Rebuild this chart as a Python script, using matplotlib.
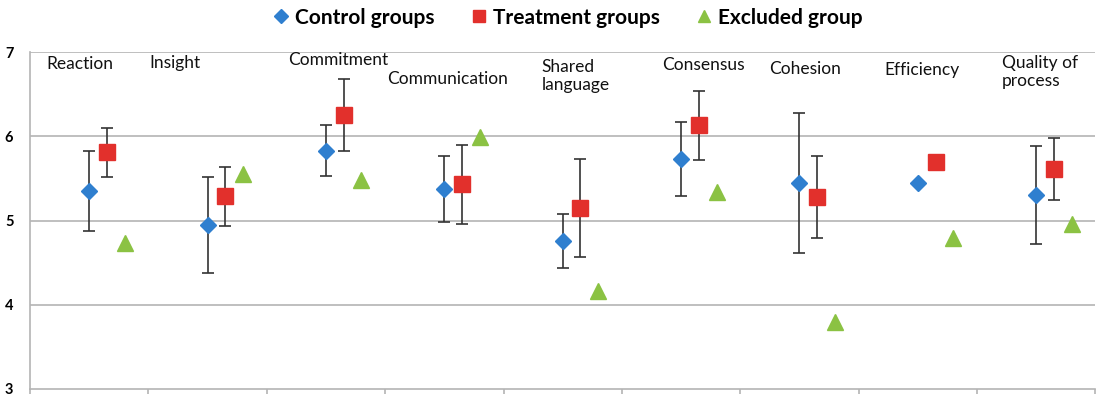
import numpy as np
import matplotlib
matplotlib.use("Agg")
import matplotlib.pyplot as plt
from matplotlib.lines import Line2D

plt.rcParams['font.family'] = ['Lato', 'DejaVu Sans']

# scale names
categories = ["Reaction", "Insight", "Commitment", "Communication", "Shared\nlanguage",
              "Consensus", "Cohesion", "Efficiency", "Quality of\nprocess"]

# mean scores with error (half range) per group
control_mean = [5.35, 4.95, 5.83, 5.37, 4.76, 5.73, 5.45, 5.45, 5.30]
control_err = [0.47, 0.57, 0.30, 0.39, 0.32, 0.44, 0.83, 0.0, 0.58]
treatment_mean = [5.81, 5.29, 6.25, 5.43, 5.15, 6.13, 5.28, 5.69, 5.61]
treatment_err = [0.29, 0.35, 0.43, 0.47, 0.58, 0.41, 0.49, 0.0, 0.37]
excluded_mean = [4.73, 5.55, 5.48, 5.99, 4.16, 5.34, 3.79, 4.79, 4.96]

# where the scale names sit (left edge x, vertical centre y)
label_x = [-0.36, 0.51, 1.68, 2.52, 3.82, 4.84, 5.74, 6.72, 7.71]
label_y = [6.86, 6.87, 6.90, 6.68, 6.72, 6.85, 6.80, 6.79, 6.76]

BLUE = "#2f7fcf"
RED = "#e2302c"
GREEN = "#8bc243"

x = np.arange(len(categories))

fig = plt.figure(figsize=(10.96, 3.94), dpi=100)
ax = fig.add_axes([0.0274, 0.0127, 0.972, 0.8553])

for y in [4, 5, 6, 7]:
    ax.axhline(y, color="#b4b4b4", lw=1.2, zorder=0)

ax.errorbar(x, control_mean, yerr=control_err, fmt="none", ecolor="#333333",
            elinewidth=1.2, capsize=4, capthick=1.2, zorder=2)
ax.errorbar(x + 0.15, treatment_mean, yerr=treatment_err, fmt="none", ecolor="#333333",
            elinewidth=1.2, capsize=4, capthick=1.2, zorder=2)

ax.plot(x, control_mean, "D", color=BLUE, ms=8.5, ls="none", zorder=3)
ax.plot(x + 0.15, treatment_mean, "s", color=RED, ms=11, ls="none", zorder=3)
ax.plot(x + 0.30, excluded_mean, "^", color=GREEN, ms=11, ls="none", zorder=3)

for lx, ly, name in zip(label_x, label_y, categories):
    ax.text(lx, ly, name, ha="left", va="center", fontsize=12.5, color="#111111",
            linespacing=1.15)

ax.set_xlim(-0.5, len(categories) - 0.5)
ax.set_ylim(3, 7)
ax.set_yticks([3, 4, 5, 6, 7])
ax.set_yticklabels(["3", "4", "5", "6", "7"], fontsize=10.5, fontweight="bold")
ax.tick_params(axis="y", length=0, pad=12)
ax.set_xticks(np.arange(len(categories) + 1) - 0.5)
ax.set_xticklabels([])
ax.tick_params(axis="x", length=5, color="#b4b4b4", width=1.2, direction="out")

for side in ["top", "right"]:
    ax.spines[side].set_visible(False)
for side in ["left", "bottom"]:
    ax.spines[side].set_color("#b4b4b4")
    ax.spines[side].set_linewidth(1.2)

handles = [
    Line2D([], [], marker="D", color=BLUE, ls="none", ms=7),
    Line2D([], [], marker="s", color=RED, ls="none", ms=9),
    Line2D([], [], marker="^", color=GREEN, ls="none", ms=9),
]
fig.legend(handles, ["Control groups", "Treatment groups", "Excluded group"],
           loc="center", bbox_to_anchor=(0.517, 0.955), ncol=3, frameon=False,
           prop={"weight": "bold", "size": 15}, handletextpad=0.2,
           columnspacing=1.6, handlelength=1.0)

fig.savefig("out.png", dpi=100)
